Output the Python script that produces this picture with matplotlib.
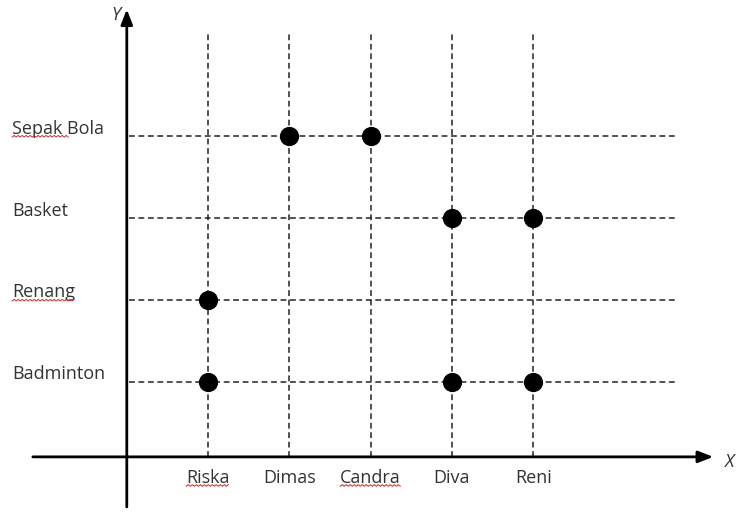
import numpy as np
import matplotlib.pyplot as plt

# data
siswa = ['Riska', 'Dimas', 'Candra', 'Diva', 'Reni']
olahraga = ['Badminton', 'Renang', 'Basket', 'Sepak Bola']
pilihan_siswa = ['Riska', 'Riska', 'Dimas', 'Candra', 'Diva', 'Diva', 'Reni', 'Reni']
pilihan_olahraga = ['Renang', 'Badminton', 'Sepak Bola', 'Sepak Bola',
                    'Basket', 'Badminton', 'Basket', 'Badminton']
salah_eja = ['Sepak', 'Renang', 'Riska', 'Candra']  # kata bergaris merah

plt.rcParams['font.family'] = ['Open Sans', 'DejaVu Sans']
fs = 13

fig = plt.figure(figsize=(7.38, 5.13), dpi=100)
ax = fig.add_axes([0, 0, 1, 1])
ax.set_xlim(-1.56, 7.52)
ax.set_ylim(-0.6, 5.66)
ax.axis('off')

xs = np.arange(1, len(siswa) + 1)
ys = np.arange(1, len(olahraga) + 1)
x0, y0 = 0.0, 0.085  # titik asal sumbu

# garis putus-putus
for x in xs:
    ax.plot([x, x], [y0, 5.26], color='#222222', lw=1.1, ls=(0, (3.8, 2.4)), zorder=1)
for y in ys:
    ax.plot([x0 + 0.03, 6.75], [y, y], color='#222222', lw=1.1, ls=(0, (3.8, 2.4)), zorder=1)

# sumbu dengan panah
ax.annotate('', xy=(7.25, y0), xytext=(-1.19, y0),
            arrowprops=dict(arrowstyle='-|>,head_length=0.9,head_width=0.35', color='black', lw=2.0))
ax.annotate('', xy=(x0, 5.58), xytext=(x0, -0.56),
            arrowprops=dict(arrowstyle='-|>,head_length=0.9,head_width=0.35', color='black', lw=2.0))
ax.text(7.42, y0 - 0.06, 'X', style='italic', fontsize=fs, color='#333333', ha='center', va='center')
ax.text(-0.13, 5.48, 'Y', style='italic', fontsize=fs, color='#333333', ha='center', va='center')

# titik
px = [siswa.index(s) + 1 for s in pilihan_siswa]
py = [olahraga.index(o) + 1 for o in pilihan_olahraga]
ax.scatter(px, py, s=165, color='black', zorder=3)

# label
teks = []
for y, o in zip(ys, olahraga):
    teks.append(ax.text(-1.41, y + 0.03, o, fontsize=fs, color='#333333', ha='left', va='baseline'))
for x, s in zip(xs, siswa):
    teks.append(ax.text(x, -0.17, s, fontsize=fs, color='#333333', ha='center', va='center'))

# garis bergelombang merah (cek ejaan)
fig.canvas.draw()
r = fig.canvas.get_renderer()
for t in teks:
    kata = t.get_text().split()[0]
    if kata not in salah_eja:
        continue
    bb = t.get_window_extent(r)
    w = bb.width
    if kata != t.get_text():
        tmp = ax.text(0, 0, kata, fontsize=fs)
        w = tmp.get_window_extent(r).width * 1.15
        tmp.remove()
    zx = np.arange(bb.x0, bb.x0 + w, 2.0)
    zy = bb.y0 + 0.5 + np.where(np.arange(len(zx)) % 2 == 0, 0, 1.6)
    fig.add_artist(plt.Line2D(zx, zy, color='#d04040', lw=0.8, transform=None))

fig.savefig('out.png', dpi=100)
